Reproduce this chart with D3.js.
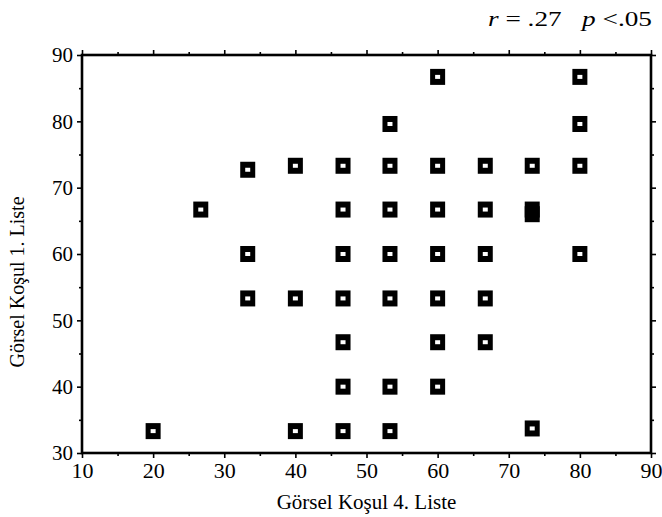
<!DOCTYPE html>
<html><head><meta charset="utf-8">
<script src="https://cdn.jsdelivr.net/npm/d3@7"></script>
<style>body{margin:0;background:#fff}svg{display:block}</style>
</head><body>
<script>
// Data
const xValues = [60, 80, 53.3, 80, 33.3, 40, 46.7, 53.3, 60, 66.7, 73.3, 80,
  26.7, 46.7, 53.3, 60, 66.7, 73.3, 73.3,
  33.3, 46.7, 53.3, 60, 66.7, 80,
  33.3, 40, 46.7, 53.3, 60, 66.7,
  46.7, 60, 66.7,
  46.7, 53.3, 60,
  20, 40, 46.7, 53.3, 73.3];
const yValues = [86.7, 86.7, 79.6, 79.6, 72.7, 73.3, 73.3, 73.3, 73.3, 73.3, 73.3, 73.3,
  66.7, 66.7, 66.7, 66.7, 66.7, 66.7, 66.0,
  60, 60, 60, 60, 60, 60,
  53.3, 53.3, 53.3, 53.3, 53.3, 53.3,
  46.7, 46.7, 46.7,
  40, 40, 40,
  33.3, 33.3, 33.3, 33.3, 33.7];
const xTicks = [10, 20, 30, 40, 50, 60, 70, 80, 90];
const yTicks = [30, 40, 50, 60, 70, 80, 90];
const xTitle = "Görsel Koşul 4. Liste";
const yTitle = "Görsel Koşul 1. Liste";

const W = 662, H = 517;
const m = {l: 82, r: 662 - 651, t: 55, b: 517 - 453};
const svg = d3.select("body").append("svg").attr("width", W).attr("height", H);
const font = "'Liberation Serif', 'Times New Roman', serif";

const x = d3.scaleLinear().domain([10, 90]).range([m.l, W - m.r]);
const y = d3.scaleLinear().domain([30, 90]).range([H - m.b, m.t]);

const xMinor = d3.range(15, 90, 10);
const yMinor = d3.range(35, 90, 10);

function styleAxis(size) {
  return g => {
    g.select(".domain").remove();
    g.selectAll(".tick line").attr("stroke", "#000").attr("stroke-width", 1.6);
    g.selectAll(".tick text").attr("font-family", font).attr("font-size", size).attr("fill", "#000");
  };
}

svg.append("g").attr("transform", `translate(0,${H - m.b})`)
  .call(d3.axisBottom(x).tickValues(xTicks).tickFormat(d3.format("d")).tickSize(5).tickPadding(4))
  .call(styleAxis(22));
svg.append("g").attr("transform", `translate(0,${H - m.b})`)
  .call(d3.axisBottom(x).tickValues(xMinor).tickFormat("").tickSize(3)).call(styleAxis(22));
svg.append("g").attr("transform", `translate(0,${m.t})`)
  .call(d3.axisTop(x).tickValues(xTicks).tickFormat("").tickSize(5)).call(styleAxis(22));
svg.append("g").attr("transform", `translate(0,${m.t})`)
  .call(d3.axisTop(x).tickValues(xMinor).tickFormat("").tickSize(3)).call(styleAxis(22));
svg.append("g").attr("transform", `translate(${m.l},0)`)
  .call(d3.axisLeft(y).tickValues(yTicks).tickFormat(d3.format("d")).tickSize(5).tickPadding(4))
  .call(styleAxis(21));
svg.append("g").attr("transform", `translate(${m.l},0)`)
  .call(d3.axisLeft(y).tickValues(yMinor).tickFormat("").tickSize(3)).call(styleAxis(21));
svg.append("g").attr("transform", `translate(${W - m.r},0)`)
  .call(d3.axisRight(y).tickValues(yTicks).tickFormat("").tickSize(5)).call(styleAxis(21));
svg.append("g").attr("transform", `translate(${W - m.r},0)`)
  .call(d3.axisRight(y).tickValues(yMinor).tickFormat("").tickSize(3)).call(styleAxis(21));

svg.append("rect").attr("x", x(10)).attr("y", y(90))
  .attr("width", x(90) - x(10)).attr("height", y(30) - y(90))
  .attr("fill", "none").attr("stroke", "#000").attr("stroke-width", 2.6);

const pts = xValues.map((v, i) => ({x: v, y: yValues[i]}));
const S = 16;
pts.forEach((p, i) => {
  p.overlap = pts.some((q, j) => j !== i && Math.abs(x(q.x) - x(p.x)) < S && Math.abs(y(q.y) - y(p.y)) < S);
});
const g = svg.append("g");
g.selectAll("rect.mk").data(pts).join("rect").attr("class", "mk")
  .attr("x", d => x(d.x) - S / 2 + 0.5).attr("y", d => y(d.y) - S / 2)
  .attr("width", S - 1).attr("height", S).attr("fill", "#000");
g.selectAll("rect.hole").data(pts.filter(d => !d.overlap)).join("rect").attr("class", "hole")
  .attr("x", d => x(d.x) - 2.5).attr("y", d => y(d.y) - 2)
  .attr("width", 5).attr("height", 4).attr("fill", "#fff");

svg.append("text").attr("x", (x(10) + x(90)) / 2).attr("y", 509)
  .attr("text-anchor", "middle").attr("font-family", font).attr("font-size", 21).text(xTitle);
svg.append("text").attr("transform", `translate(24,282) rotate(-90)`)
  .attr("text-anchor", "middle").attr("font-family", font).attr("font-size", 20).text(yTitle);

const t = svg.append("text").attr("x", 488).attr("y", 26)
  .attr("font-family", font).attr("font-size", 22).attr("xml:space", "preserve")
  .attr("textLength", 164).attr("lengthAdjust", "spacingAndGlyphs")
  .style("white-space", "pre");
t.append("tspan").attr("font-style", "italic").text("r");
t.append("tspan").text(" = .27   ");
t.append("tspan").attr("font-style", "italic").text("p");
t.append("tspan").text(" <.05");
</script>
</body></html>
